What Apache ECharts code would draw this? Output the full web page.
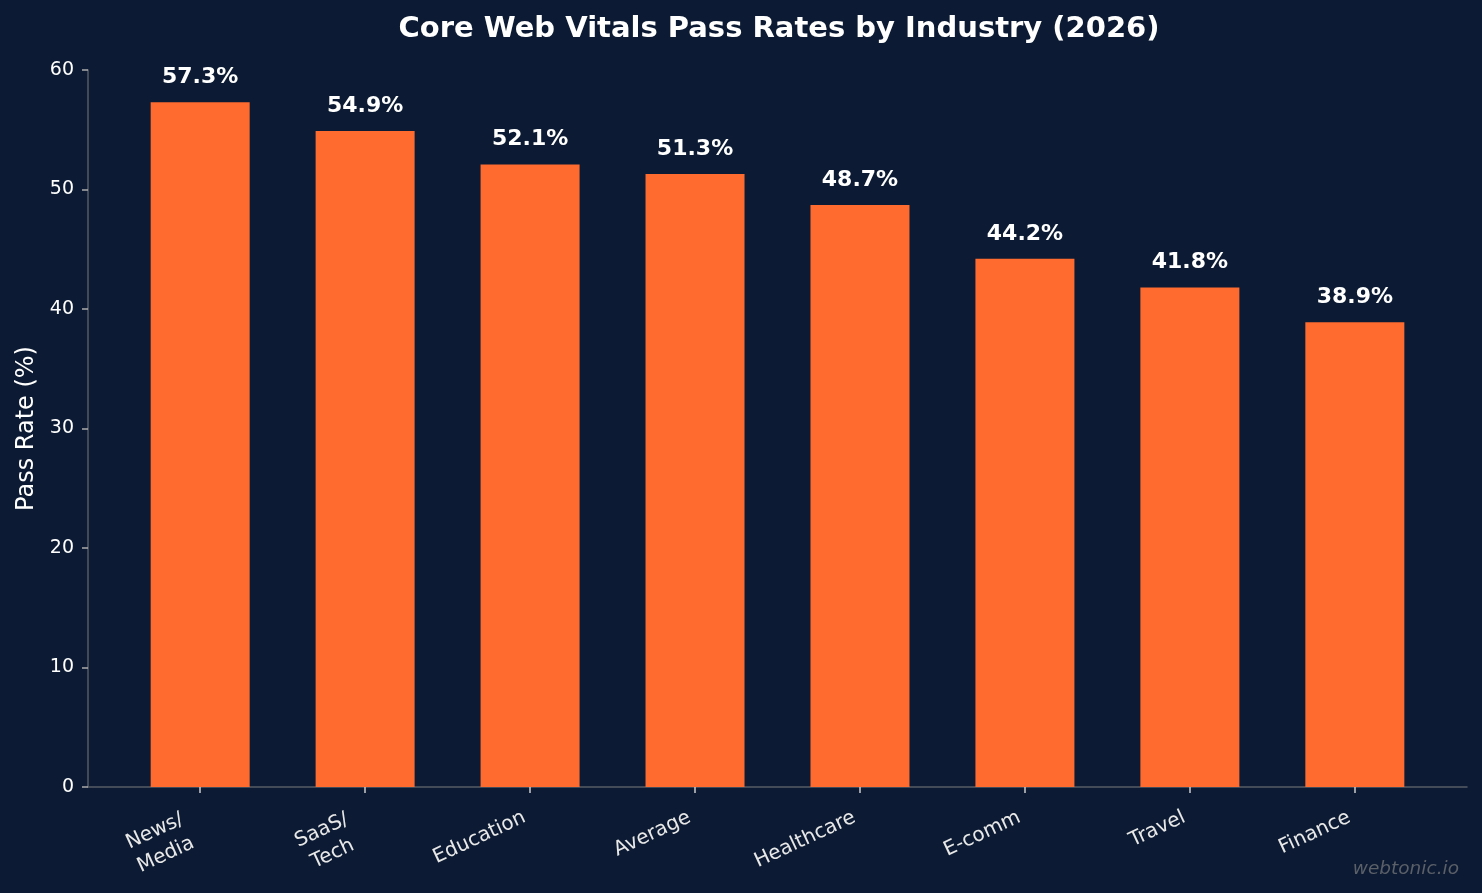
<!DOCTYPE html>
<html>
<head>
<meta charset="utf-8">
<script src="https://cdn.jsdelivr.net/npm/echarts@6/dist/echarts.min.js"></script>
<style>
html,body{margin:0;padding:0;background:#0c1b33;}
#chart{width:1482px;height:893px;}
</style>
</head>
<body>
<div id="chart"></div>
<script>
const categories = ['News/\nMedia', 'SaaS/\nTech', 'Education', 'Average', 'Healthcare', 'E-comm', 'Travel', 'Finance'];
const passRates = [57.3, 54.9, 52.1, 51.3, 48.7, 44.2, 41.8, 38.9];
const yTicks = [0, 10, 20, 30, 40, 50, 60];

const FONT = '"DejaVu Sans", "Liberation Sans", sans-serif';
const chart = echarts.init(document.getElementById('chart'), null, {renderer: 'canvas'});
const catIdx = categories.map((c, i) => i);
const singleIdx = catIdx.filter(i => categories[i].indexOf('\n') < 0);
const multiIdx = catIdx.filter(i => categories[i].indexOf('\n') >= 0);

const labelBase = {
  rotate: 25, color: '#e8e8e8', fontFamily: FONT, fontSize: 20, lineHeight: 26
};

chart.setOption({
  backgroundColor: '#0c1b33',
  animation: false,
  title: {
    text: 'Core Web Vitals Pass Rates by Industry (2026)',
    left: 774, top: 10, textAlign: 'center',
    textStyle: {color: '#ffffff', fontFamily: FONT, fontWeight: 'bold', fontSize: 29}
  },
  grid: {left: 88, right: 15, top: 70, bottom: 106, containLabel: false},
  xAxis: [{
    type: 'value', min: -0.68, max: 7.68, position: 'bottom',
    splitLine: {show: false},
    axisLine: {show: true, onZero: false, lineStyle: {color: '#555b66', width: 1.5}},
    axisTick: {show: true, customValues: catIdx, length: 6, lineStyle: {color: '#cccccc', width: 1.5}},
    axisLabel: Object.assign({}, labelBase, {
      customValues: singleIdx, margin: 27, padding: [0, 6, 0, 0],
      formatter: v => categories[Math.round(v)]
    })
  }, {
    type: 'value', min: -0.68, max: 7.68, position: 'bottom', offset: 0,
    splitLine: {show: false},
    axisLine: {show: false, onZero: false},
    axisTick: {show: false},
    axisLabel: Object.assign({}, labelBase, {
      customValues: multiIdx, margin: 27, padding: [19, 18, 0, 0],
      formatter: v => categories[Math.round(v)].split('\n').map(s => '{c|' + s + '}').join('\n'),
      rich: {c: {align: 'center', color: '#e8e8e8', fontFamily: FONT, fontSize: 20, lineHeight: 26}}
    })
  }],
  yAxis: {
    type: 'value', min: yTicks[0], max: yTicks[yTicks.length - 1], interval: 10,
    name: 'Pass Rate (%)', nameLocation: 'middle', nameGap: 49,
    nameTextStyle: {color: '#ffffff', fontFamily: FONT, fontSize: 24},
    splitLine: {show: false},
    axisLine: {show: true, onZero: false, lineStyle: {color: '#555b66', width: 1.5}},
    axisTick: {show: true, length: 6, lineStyle: {color: '#aaaaaa', width: 1.5}},
    axisLabel: {color: '#ffffff', fontFamily: FONT, fontSize: 19, margin: 14}
  },
  series: [{
    type: 'bar',
    xAxisIndex: 0,
    barWidth: 99,
    data: passRates.map((v, i) => [catIdx[i], v]),
    itemStyle: {color: '#ff6b2f'},
    label: {
      show: true, position: 'top', distance: 14,
      formatter: p => p.value[1].toFixed(1) + '%',
      color: '#ffffff', fontFamily: FONT, fontWeight: 'bold', fontSize: 22
    }
  }],
  graphic: [{
    type: 'text', right: 23, bottom: 14,
    style: {text: 'webtonic.io', fill: '#5a5f68', font: 'italic 18.5px "DejaVu Sans"'}
  }]
});
</script>
</body>
</html>
